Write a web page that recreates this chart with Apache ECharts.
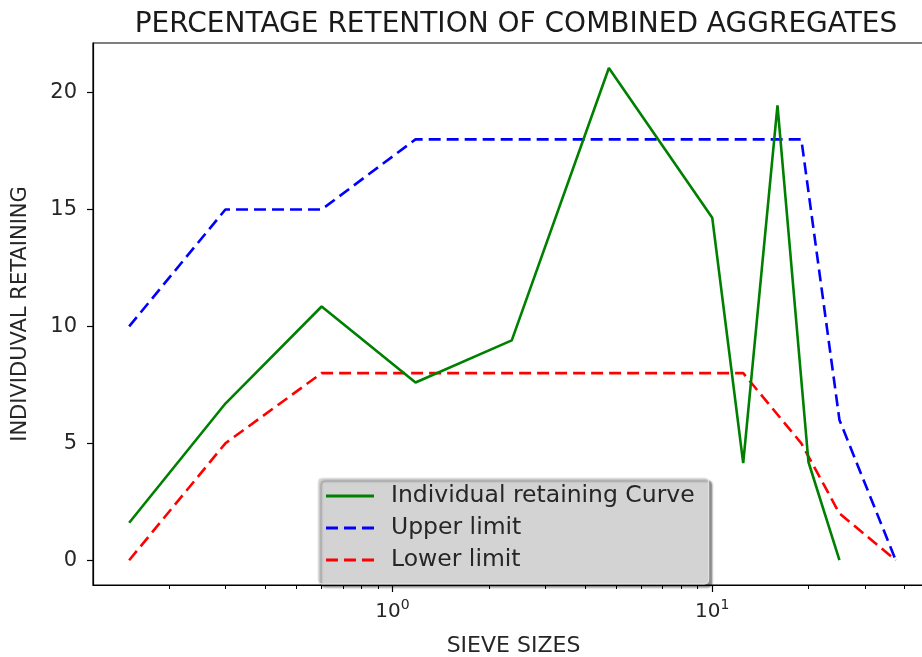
<!DOCTYPE html>
<html>
<head>
<meta charset="utf-8">
<script src="https://cdn.jsdelivr.net/npm/echarts@6/dist/echarts.min.js"></script>
<style>
html,body{margin:0;padding:0;background:#fff;overflow:hidden;}
#chart{width:922px;height:657px;}
</style>
</head>
<body>
<div id="chart"></div>
<script>
// ---- data ----
const curveSizes = [0.15, 0.3, 0.6, 1.18, 2.36, 4.75, 10, 12.5, 16, 20, 25];
const curveValues = [1.6, 6.7, 10.85, 7.6, 9.4, 21.05, 14.65, 4.15, 19.45, 4.2, 0];
const limitSizes = [0.15, 0.3, 0.6, 1.18, 2.36, 4.75, 10, 12.5, 19, 25, 37.5];
const upperValues = [10, 15, 15, 18, 18, 18, 18, 18, 18, 6, 0];
const lowerValues = [0, 5, 8, 8, 8, 8, 8, 8, 5, 2, 0];
const yTicks = [0, 5, 10, 15, 20];
const xMajorTicks = [1, 10];
const xMinorTicks = [0.2, 0.3, 0.4, 0.5, 0.6, 0.7, 0.8, 0.9, 2, 3, 4, 5, 6, 7, 8, 9, 20, 30, 40];
const seriesNames = ['Individual retaining Curve', 'Upper limit', 'Lower limit'];

const X_MIN = 0.1156, X_MAX = 49.4, Y_MIN = -1.06, Y_MAX = 22.12;
const FONT = 'DejaVu Sans';

const pairs = (xs, ys) => xs.map((x, i) => [x, ys[i]]);

const chart = echarts.init(document.getElementById('chart'), null, {renderer: 'canvas'});
const solidIcon = 'path://M0,0h48v3h-48z';
const dashIcon = 'path://M0,0h12v3h-12z M18,0h12v3h-12z M36,0h12v3h-12z';

chart.setOption({
  animation: false,
  backgroundColor: '#ffffff',
  title: {
    text: 'PERCENTAGE RETENTION OF COMBINED AGGREGATES',
    left: 511, top: 6, textAlign: 'center',
    textStyle: {fontFamily: FONT, fontSize: 28, fontWeight: 'normal', color: '#1a1a1a'}
  },
  grid: {
    left: 93, width: 841, top: 43, bottom: 72,
    outerBoundsMode: 'none',
    show: true, borderColor: '#000', borderWidth: 1.2, containLabel: false
  },
  legend: {
    orient: 'vertical', left: 318, top: 478,
    backgroundColor: '#d3d3d3', borderColor: '#e8e8e8', borderWidth: 1, borderRadius: 4,
    shadowColor: 'rgba(0,0,0,0.45)', shadowOffsetX: 3, shadowOffsetY: 3, shadowBlur: 2,
    padding: [6, 14, 12, 8], itemGap: 8, itemWidth: 48, itemHeight: 3,
    textStyle: {fontFamily: FONT, fontSize: 23.5, color: '#262626', padding: [0, 0, 0, 12]},
    data: [
      {name: seriesNames[0], icon: solidIcon},
      {name: seriesNames[1], icon: dashIcon},
      {name: seriesNames[2], icon: dashIcon}
    ]
  },
  xAxis: [{
    type: 'log', logBase: 10, min: X_MIN, max: X_MAX, position: 'bottom',
    name: 'SIEVE SIZES', nameLocation: 'middle', nameGap: 50,
    nameTextStyle: {fontFamily: FONT, fontSize: 22, color: '#262626'},
    axisLine: {show: true, onZero: false, lineStyle: {color: '#000', width: 1.2}},
    axisTick: {show: true, customValues: xMajorTicks, length: 7, lineStyle: {color: '#000', width: 1.2}},
    axisLabel: {
      customValues: xMajorTicks, margin: 13,
      formatter: v => '{b|10}{s|' + Math.round(Math.log10(v)) + '}',
      rich: {
        b: {fontFamily: FONT, fontSize: 20, color: '#262626', verticalAlign: 'bottom'},
        s: {fontFamily: FONT, fontSize: 14, color: '#262626', verticalAlign: 'top', padding: [0, 0, 10, 0]}
      }
    },
    splitLine: {show: false}
  }, {
    type: 'log', logBase: 10, min: X_MIN, max: X_MAX, position: 'bottom', offset: 0,
    axisLine: {show: false, onZero: false},
    axisTick: {show: true, customValues: xMinorTicks, length: 4, lineStyle: {color: '#000', width: 1}},
    axisLabel: {show: false},
    splitLine: {show: false}
  }],
  yAxis: {
    type: 'value', min: Y_MIN, max: Y_MAX,
    name: 'INDIVIDUVAL RETAINING', nameLocation: 'middle', nameGap: 62,
    nameTextStyle: {fontFamily: FONT, fontSize: 21, color: '#262626'},
    axisLine: {show: true, onZero: false, lineStyle: {color: '#000', width: 1.2}},
    axisTick: {show: true, customValues: yTicks, length: 6, lineStyle: {color: '#000', width: 1.2}},
    axisLabel: {customValues: yTicks, margin: 16, fontFamily: FONT, fontSize: 21, color: '#262626'},
    splitLine: {show: false}
  },
  series: [{
    name: seriesNames[0], type: 'line', xAxisIndex: 0, symbol: 'none',
    data: pairs(curveSizes, curveValues),
    color: '#008000', lineStyle: {color: '#008000', width: 2.6}, z: 3
  }, {
    name: seriesNames[1], type: 'line', xAxisIndex: 0, symbol: 'none',
    data: pairs(limitSizes, upperValues),
    color: '#0000ff', lineStyle: {color: '#0000ff', width: 2.6, type: [12, 6]}, z: 2
  }, {
    name: seriesNames[2], type: 'line', xAxisIndex: 0, symbol: 'none',
    data: pairs(limitSizes, lowerValues),
    color: '#ff0000', lineStyle: {color: '#ff0000', width: 2.6, type: [12, 6]}, z: 2
  }]
});
</script>
</body>
</html>
